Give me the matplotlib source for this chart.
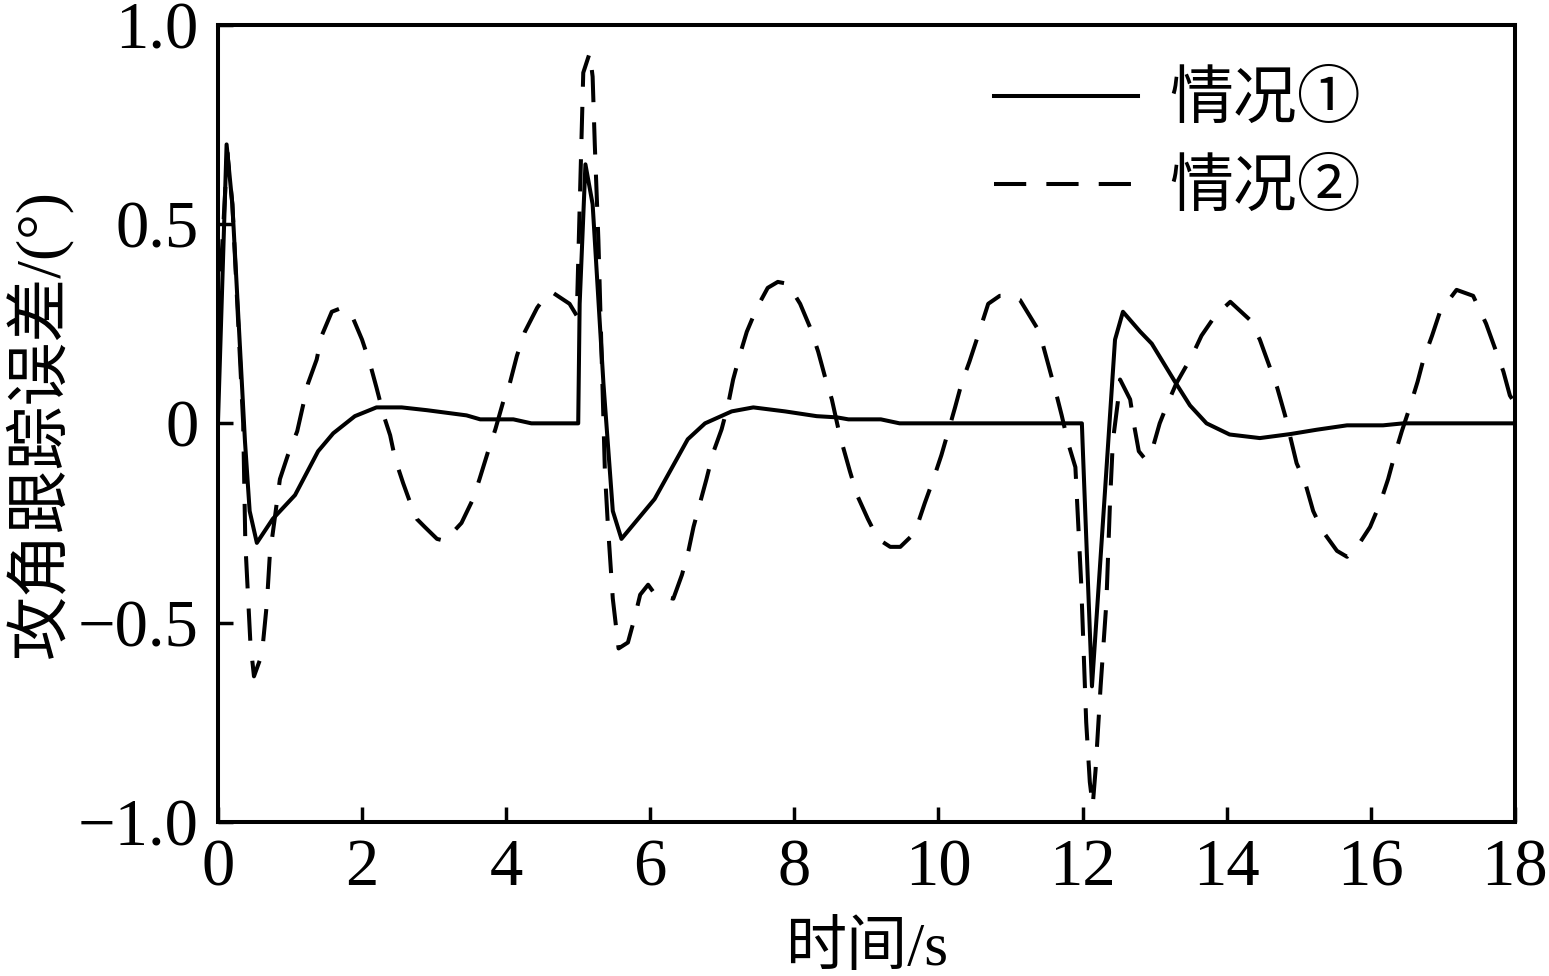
import numpy as np
import matplotlib
matplotlib.use('Agg')
import matplotlib.pyplot as plt

# 情况① (solid)
t1 = [0, 0.12, 0.2, 0.375, 0.44, 0.54, 0.76, 1.07, 1.39, 1.6, 1.9, 2.2, 2.55, 2.9, 3.45,
      3.64, 4.1, 4.35, 5.0, 5.02, 5.1, 5.2, 5.35, 5.48, 5.6, 6.06, 6.52, 6.76, 7.13, 7.43,
      7.87, 8.31, 8.59, 8.75, 9.2, 9.46, 11.99, 12.0, 12.13, 12.3, 12.45, 12.56, 12.8,
      12.96, 13.28, 13.49, 13.72, 14.04, 14.46, 14.88, 15.25, 15.67, 16.17, 16.45, 18.0]
e1 = [0, 0.70, 0.55, -0.045, -0.22, -0.30, -0.24, -0.18, -0.07, -0.025, 0.018, 0.04, 0.04,
      0.033, 0.02, 0.01, 0.01, 0.0, 0.0, 0.30, 0.65, 0.55, 0.1, -0.22, -0.29, -0.19, -0.04,
      0.0, 0.03, 0.04, 0.03, 0.018, 0.015, 0.01, 0.01, 0.0, 0.0, -0.05, -0.66, -0.2, 0.21,
      0.28, 0.23, 0.2, 0.105, 0.045, 0.0, -0.028, -0.037, -0.027, -0.016, -0.005, -0.005,
      0.0, 0.0]

# 情况② (dashed)
t2 = [0, 0.13, 0.2, 0.35, 0.38, 0.45, 0.5, 0.61, 0.68, 0.72, 0.78, 0.86, 0.97, 1.1, 1.25,
      1.37, 1.44, 1.58, 1.72, 1.86, 2.0, 2.11, 2.2, 2.3, 2.39, 2.46, 2.57, 2.69, 2.76, 2.87,
      3.04, 3.15, 3.38, 3.54, 3.63, 3.75, 3.85, 3.96, 4.05, 4.15, 4.26, 4.43, 4.51, 4.63,
      4.88, 4.98, 5.07, 5.16, 5.2, 5.23, 5.28, 5.37, 5.41, 5.48, 5.56, 5.69, 5.78, 5.86,
      5.97, 6.07, 6.32, 6.44, 6.53, 6.6, 6.69, 6.78, 6.87, 6.99, 7.08, 7.15, 7.24, 7.34,
      7.48, 7.63, 7.77, 7.91, 8.08, 8.22, 8.33, 8.42, 8.52, 8.63, 8.77, 8.87, 9.02, 9.16,
      9.33, 9.47, 9.67, 9.81, 9.92, 10.04, 10.12, 10.23, 10.32, 10.43, 10.53, 10.69, 10.85,
      11.0, 11.13, 11.4, 11.64, 11.71, 11.8, 11.9, 11.98, 12.05, 12.1, 12.14, 12.18, 12.25,
      12.33, 12.38, 12.42, 12.49, 12.52, 12.66, 12.72, 12.78, 12.87, 12.96, 13.07, 13.18,
      13.3, 13.52, 13.65, 13.84, 14.05, 14.32, 14.46, 14.6, 14.7, 14.81, 14.97, 15.09, 15.2,
      15.33, 15.53, 15.67, 15.81, 15.99, 16.13, 16.24, 16.33, 16.43, 16.54, 16.65, 16.73,
      16.85, 16.96, 17.19, 17.42, 17.6, 17.72, 17.84, 17.93, 18.0]
e2 = [0.25, 0.68, 0.55, 0.0, -0.3, -0.55, -0.635, -0.58, -0.45, -0.33, -0.25, -0.14, -0.08,
      -0.02, 0.1, 0.16, 0.22, 0.28, 0.29, 0.27, 0.21, 0.15, 0.09, 0.02, -0.03, -0.09, -0.15,
      -0.21, -0.24, -0.26, -0.29, -0.295, -0.25, -0.19, -0.14, -0.07, -0.015, 0.055, 0.1,
      0.17, 0.23, 0.29, 0.31, 0.33, 0.3, 0.27, 0.88, 0.93, 0.87, 0.7, 0.46, -0.12, -0.25,
      -0.44, -0.565, -0.55, -0.49, -0.43, -0.405, -0.43, -0.44, -0.38, -0.32, -0.26, -0.2,
      -0.14, -0.075, -0.015, 0.047, 0.11, 0.17, 0.23, 0.29, 0.34, 0.355, 0.35, 0.3, 0.24,
      0.18, 0.12, 0.06, -0.03, -0.12, -0.18, -0.24, -0.29, -0.31, -0.31, -0.275, -0.2,
      -0.145, -0.08, -0.03, 0.04, 0.1, 0.155, 0.21, 0.3, 0.32, 0.32, 0.31, 0.23, 0.07, 0.02,
      -0.05, -0.11, -0.4, -0.75, -0.9, -0.96, -0.87, -0.66, -0.45, -0.2, -0.045, 0.055, 0.11,
      0.06, -0.01, -0.07, -0.09, -0.07, 0.0, 0.05, 0.1, 0.17, 0.22, 0.27, 0.305, 0.26, 0.21,
      0.14, 0.09, 0.02, -0.1, -0.15, -0.22, -0.27, -0.32, -0.335, -0.31, -0.26, -0.2, -0.14,
      -0.08, -0.02, 0.04, 0.105, 0.16, 0.22, 0.28, 0.335, 0.32, 0.25, 0.19, 0.13, 0.07, 0.05]

xticks = [0, 2, 4, 6, 8, 10, 12, 14, 16, 18]
yticks = [-1.0, -0.5, 0, 0.5, 1.0]
ytick_labels = ['\u22121.0', '\u22120.5', '0', '0.5', '1.0']

fonts = ['Liberation Serif', 'Noto Sans CJK SC']
plt.rcParams['font.family'] = fonts
plt.rcParams['axes.unicode_minus'] = True

fig = plt.figure(figsize=(15.49, 9.76), dpi=100)
ax = fig.add_axes([0.1407, 0.158, 0.8373, 0.8165])

ax.plot(t1, e1, color='black', lw=2.9, label='情况①')
ax.plot(t2, e2, color='black', lw=2.9, dashes=(8, 5), label='情况②')

ax.set_xlim(0, 18)
ax.set_ylim(-1.0, 1.0)
ax.set_xticks(xticks)
ax.set_xticklabels([str(v) for v in xticks])
ax.set_yticks(yticks)
ax.set_yticklabels(ytick_labels)

for s in ax.spines.values():
    s.set_linewidth(2.9)
ax.tick_params(direction='in', length=11, width=2.5, labelsize=48, top=False, right=False)
ax.tick_params(axis='x', pad=12)
ax.tick_params(axis='y', pad=14)

ax.set_xlabel('时间/s', fontsize=44, labelpad=16)
ax.set_ylabel('攻角跟踪误差/(°)', fontsize=46, labelpad=4)

leg = ax.legend(loc='upper left', bbox_to_anchor=(0.554, 1.012), frameon=False,
                fontsize=46, handlelength=2.25, handletextpad=0.5, labelspacing=0.45)

fig.savefig('out.png', dpi=100)
